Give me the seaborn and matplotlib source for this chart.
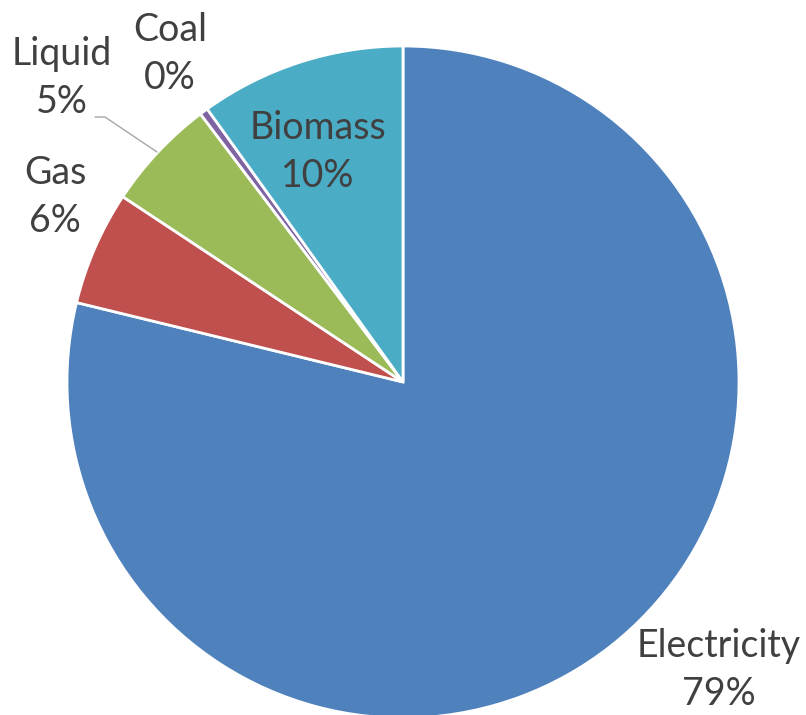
#!/usr/bin/env python3

import matplotlib.pyplot as plt
import seaborn as sns

# Energy share by source (percent), clockwise from 12 o'clock
sources = ["Electricity", "Gas", "Liquid", "Coal", "Biomass"]
shares = [78.8, 5.5, 5.4, 0.4, 9.9]
share_labels = ["79%", "6%", "5%", "0%", "10%"]

palette = sns.color_palette(["#4F81BD", "#C0504D", "#9BBB59", "#8064A2", "#4BACC6"])

W, H = 806, 715

sns.set_theme(style="white")
plt.rcParams["font.family"] = ["Lato", "DejaVu Sans"]

fig = plt.figure(figsize=(W / 100, H / 100), dpi=100)
ax = fig.add_axes([0, 0, 1, 1])

ax.pie(
    shares,
    colors=palette,
    startangle=90,
    counterclock=False,
    center=(403, H - 382),
    radius=336,
    wedgeprops=dict(edgecolor="white", linewidth=2),
)
ax.set_xlim(0, W)
ax.set_ylim(0, H)
ax.set_aspect("equal")
ax.axis("off")

# label anchor points, in image pixels (x, y from top)
label_pos = {
    "Electricity": (719, 670),
    "Gas": (55, 197),
    "Liquid": (62, 78),
    "Coal": (170, 54),
    "Biomass": (318, 152),
}

for name, pct in zip(sources, share_labels):
    x, y = label_pos[name]
    ax.text(
        x, H - y, f"{name}\n{pct}",
        ha="center", va="center", fontsize=27, color="#404040",
        linespacing=1.38,
    )

# leader line for the liquid label
ax.plot([95, 105, 157], [H - 117, H - 117, H - 152], color="#A6A6A6", lw=1)

plt.savefig("out.png", dpi=100)
plt.close()
